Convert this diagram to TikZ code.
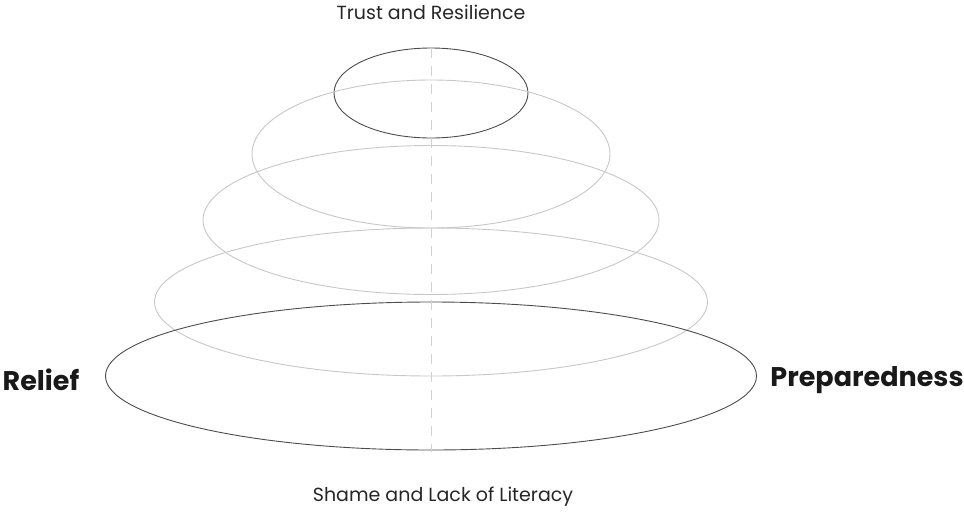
\documentclass[tikz,border=0pt]{standalone}
\usepackage{fontspec}
\setmainfont{Poppins}
\usetikzlibrary{positioning, shapes.geometric}

\begin{document}
\begin{tikzpicture}[
    x=1pt, y=-1pt,
    ring/.style={ellipse, draw=black!70, line width=0.9pt, inner sep=0pt},
    faint/.style={ellipse, draw=black!22, line width=0.9pt, inner sep=0pt},
    axis/.style={draw=black!18, line width=0.7pt, dash pattern=on 10pt off 8pt},
    caption/.style={font=\fontsize{19}{22}\selectfont, text=black!85},
    pole/.style={font=\fontsize{27}{30}\selectfont\bfseries, text=black!90},
]
\useasboundingbox (0,0) rectangle (964,512);

% Layers, top to bottom
\node[ring, minimum width=194pt, minimum height=90pt] (top) at (431,93) {};
\node[faint, minimum width=358pt, minimum height=148pt] (second) at (431,154) {};
\node[faint, minimum width=456pt, minimum height=149pt] (third) at (431,220) {};
\node[faint, minimum width=553pt, minimum height=148pt] (fourth) at (431,302) {};
\node[ring, minimum width=651pt, minimum height=148pt] (base) at (431,376) {};

% Axis
\coordinate (axtop) at (431,48);
\coordinate (axbot) at (431,452);
\draw[axis] (axtop) -- (axbot);

% Labels
\node[caption] (trust) at (431,12) {Trust and Resilience};
\node[caption] (shame) at (443,497) {Shame and Lack of Literacy};
\node[pole] (relief) at (41,380) {Relief};
\node[pole] (prep) at (867,380) {Preparedness};

\end{tikzpicture}
\end{document}
